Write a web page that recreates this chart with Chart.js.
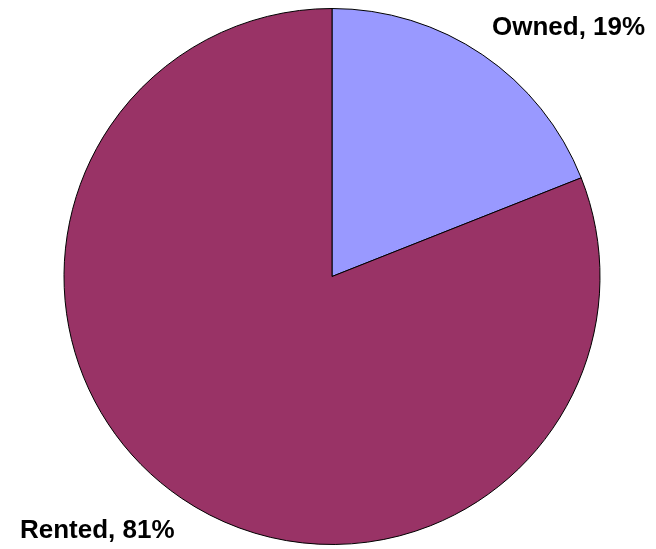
<!DOCTYPE html>
<html>
<head>
<meta charset="utf-8">
<script src="https://cdn.jsdelivr.net/npm/chart.js@4/dist/chart.umd.min.js"></script>
<style>
html,body{margin:0;padding:0;background:#fff;}
#wrap{width:656px;height:549px;}
</style>
</head>
<body>
<div id="wrap"><canvas id="c" width="656" height="549"></canvas></div>
<script>
const categories = ['Owned', 'Rented'];
const values = [19, 81];
const colors = ['#9999FF', '#993366'];

const labelPlugin = {
  id: 'sliceLabels',
  afterDraw(chart) {
    const ctx = chart.ctx;
    ctx.save();
    ctx.font = 'bold 26px "Liberation Sans", Arial, sans-serif';
    ctx.fillStyle = '#000';
    ctx.textBaseline = 'middle';
    ctx.textAlign = 'left';
    const pos = [[492, 28], [20, 531]];
    categories.forEach((c, i) => {
      ctx.fillText(c + ', ' + values[i] + '%', pos[i][0], pos[i][1]);
    });
    ctx.restore();
  }
};

new Chart(document.getElementById('c'), {
  type: 'pie',
  data: {
    labels: categories,
    datasets: [{
      data: values,
      backgroundColor: colors,
      borderColor: '#000',
      borderWidth: 1
    }]
  },
  options: {
    responsive: false,
    animation: false,
    layout: { padding: { left: 8, right: 0, top: 8, bottom: 4 } },
    plugins: { legend: { display: false }, tooltip: { enabled: false } }
  },
  plugins: [labelPlugin]
});
</script>
</body>
</html>
